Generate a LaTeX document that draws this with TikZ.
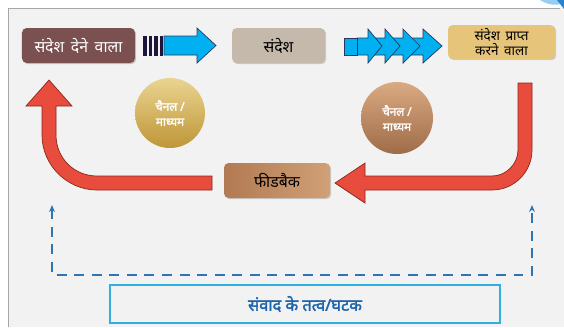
\documentclass[tikz,border=0pt]{standalone}
\usepackage{fontspec}
\newfontfamily\hindi[Script=Devanagari, WordSpace=1.6]{Noto Sans}
\newfontfamily\hindibold[Script=Devanagari, FakeBold=2]{Noto Sans}
\usepackage{tikz}
\usetikzlibrary{positioning, arrows.meta, shadows, calc}
\definecolor{PanelGray}{RGB}{242,242,242}
\definecolor{SenderBrown}{RGB}{122,80,80}
\definecolor{MsgTan}{RGB}{196,185,170}
\definecolor{RecvGold}{RGB}{230,196,122}
\definecolor{FbDark}{RGB}{178,122,82}
\definecolor{FbLight}{RGB}{208,160,118}
\definecolor{GoldTop}{RGB}{234,212,145}
\definecolor{GoldBot}{RGB}{190,150,55}
\definecolor{BrTop}{RGB}{218,170,130}
\definecolor{BrBot}{RGB}{158,108,72}
\definecolor{BlueArrow}{RGB}{0,176,240}
\definecolor{BlueEdge}{RGB}{40,55,90}
\definecolor{Stripe}{RGB}{28,22,60}
\definecolor{RedArrow}{RGB}{231,76,60}
\definecolor{RedEdge}{RGB}{140,40,30}
\definecolor{DashBlue}{RGB}{46,117,182}
\definecolor{CyanEdge}{RGB}{47,176,224}
\definecolor{TitleBlue}{RGB}{30,100,170}
\definecolor{SkyBlue}{RGB}{150,205,240}
\definecolor{DeepBlue}{RGB}{40,130,210}
\tikzstyle{msgbox} = [rounded corners=4pt, minimum height=1.05cm, inner sep=0pt, align=center, font=\hindi\fontsize{13.5}{14}\selectfont, drop shadow={shadow xshift=1pt, shadow yshift=-1pt, opacity=0.35}]
\tikzstyle{chanball} = [circle, inner sep=0pt, text=white, align=center, font=\hindibold\fontsize{10}{13}\selectfont]
\tikzstyle{bigarrow} = [fill=RedArrow, draw=RedEdge, line width=0.6pt]
\tikzstyle{bluearrow} = [fill=BlueArrow, draw=BlueEdge, line width=0.6pt]
\tikzstyle{dashline} = [DashBlue, line width=1.6pt, dash pattern=on 8.5pt off 6.5pt, {Stealth[length=6pt,width=5pt]}-{Stealth[length=6pt,width=5pt]}]

\begin{document}
\begin{tikzpicture}[x=0.03cm, y=-0.03cm]
    % Panel
    \useasboundingbox[fill=white] (0,0) rectangle (564,327);
    \fill[PanelGray] (8,8) rectangle (564,327);
    \draw[gray!70, line width=0.8pt] (8,327) -- (8,8) -- (560,8);
    \fill[SkyBlue] (540,0) .. controls (548,5) and (556,6) .. (564,3) -- (564,0) -- cycle;
    \fill[DeepBlue] (557,0) -- (564,0) -- (564,9) -- cycle;

    \node[msgbox, fill=SenderBrown, text=white, minimum width=3.39cm] (sender) at (78.5,45.5) {संदेश देने वाला};
    \node[msgbox, fill=MsgTan, minimum width=2.79cm] (msg) at (278.5,45.5) {संदेश};
    \node[msgbox, fill=RecvGold, minimum width=3.21cm, minimum height=1.02cm, font=\hindi\fontsize{11.5}{13}\selectfont] (recv) at (501.5,42) {संदेश प्राप्त\\करने वाला};
    \node[msgbox, left color=FbDark, right color=FbLight, minimum width=3.18cm] (fb) at (277,180.5) {फीडबैक};

    \node[chanball, top color=GoldTop, bottom color=GoldBot, minimum size=2.1cm] (chan1) at (170,113) {चैनल /\\माध्यम};
    \node[chanball, top color=BrTop, bottom color=BrBot, minimum size=2.16cm] (chan2) at (397,118) {चैनल /\\माध्यम};

    \node[draw=CyanEdge, line width=1.5pt, minimum width=11.7cm, minimum height=1.14cm, inner sep=0pt, text=TitleBlue, font=\hindibold\fontsize{14}{16}\selectfont] (title) at (305,304) {संवाद के तत्व/घटक};

    % Sender to message
    \foreach \xs in {143,148.5,154,159.5}
        \fill[Stripe] (\xs,35.5) rectangle (\xs+3.7,55.5);
    \filldraw[bluearrow] (164,36) -- (197,36) -- (197,28) -- (216,45.5) -- (197,63) -- (197,55) -- (164,55) -- cycle;

    % Message to receiver
    \foreach \s/\b/\t in {408/423/442, 390/403/420, 372/385/400, 357/368/382}
        \filldraw[bluearrow] (\s,38) -- (\b,38) -- (\b,29) -- (\t,46) -- (\b,63) -- (\b,55) -- (\s,55) -- cycle;
    \filldraw[bluearrow] (344,38) rectangle (357,55);

    % Receiver back to feedback
    \filldraw[bigarrow] (518,83) -- (532,83) -- (532,150) .. controls (532,172) and (514,190) .. (492,190) -- (365,190) -- (365,203) -- (335,183) -- (365,163) -- (365,176) -- (492,176) .. controls (506,176) and (518,164) .. (518,150) -- cycle;

    % Feedback back to sender
    \filldraw[bigarrow] (212,176) -- (97,176) .. controls (74,176) and (56,158) .. (56,135) -- (56,106) -- (72,106) -- (49,80) -- (26,106) -- (42,106) -- (42,135) .. controls (42,165) and (67,190) .. (97,190) -- (212,190) -- cycle;

    \coordinate (dl) at (52,205);
    \coordinate (dr) at (532,205);
    \draw[dashline] (dl) -- (52,275) -- (532,275) -- (dr);
\end{tikzpicture}
\end{document}
